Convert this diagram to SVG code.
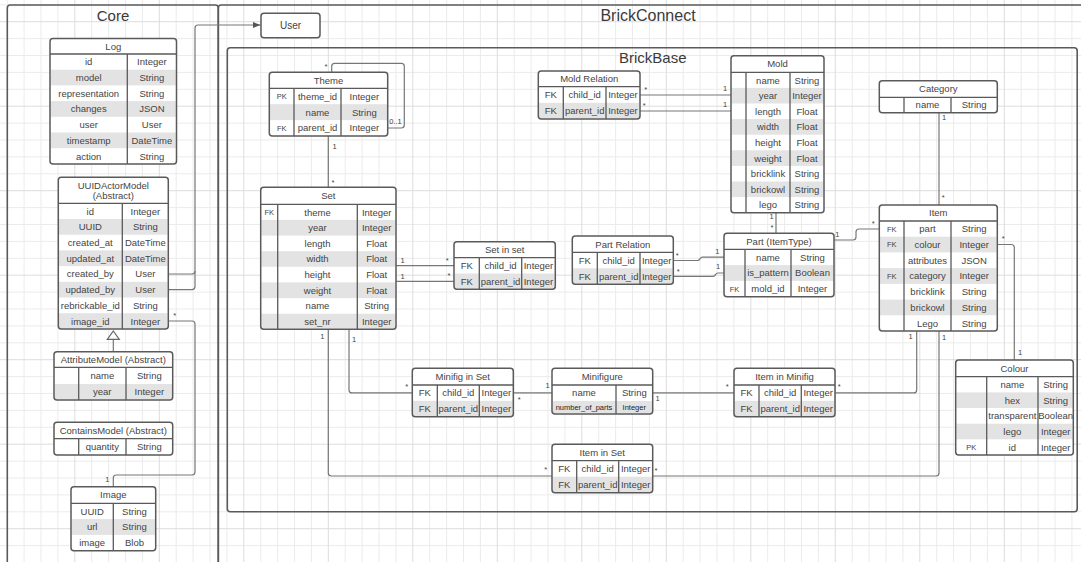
<svg xmlns="http://www.w3.org/2000/svg" width="1081" height="562" viewBox="0 0 1081 562">
<defs>
<pattern id="grid" patternUnits="userSpaceOnUse" x="66.35" y="13.25" width="84.5" height="84.5">
<path d="M25.35 0V84.5M42.25 0V84.5M59.15 0V84.5M76.05 0V84.5M0 25.35H84.5M0 42.25H84.5M0 59.15H84.5M0 76.05H84.5" stroke="#ebebeb" stroke-width="1" fill="none"/>
<path d="M8.45 0V84.5M0 8.45H84.5" stroke="#dcdcdc" stroke-width="1" fill="none"/>
</pattern>
<marker id="arrow" viewBox="0 0 8 8" refX="8" refY="4" markerWidth="8" markerHeight="8" markerUnits="userSpaceOnUse" orient="auto">
<path d="M0 0.8L8 4L0 7.2Z" fill="#555"/>
</marker>
</defs>
<style>
.frame{fill:none;stroke:#5a5a5a;stroke-width:1.6}
.box{fill:#fff}
.edge{fill:none;stroke:#5a5a5a;stroke-width:1.5}
.alt{fill:#e3e3e3}
.div{fill:none;stroke:#5a5a5a;stroke-width:1.3}
text{font-family:"Liberation Sans",Arial,sans-serif;fill:#444;text-anchor:middle}
.t{font-size:9.5px}
.k{font-size:7.5px}
.m{font-size:7.5px;fill:#222}
.title{font-size:15px;fill:#3a3a3a}
.wire{fill:none;stroke:#777;stroke-width:1.2}
.lbl{font-size:7.5px;fill:#444}
</style>

<!-- canvas and grid -->
<rect width="1081" height="562" fill="#fff"/>
<rect width="1081" height="562" fill="url(#grid)"/>

<!-- containers -->
<g id="core-frame">
<rect class="frame" x="7.3" y="5" width="211" height="620" rx="3"/>
<text class="title" x="113" y="21">Core</text>
</g>
<g id="brickconnect-frame">
<rect class="frame" x="218.3" y="5" width="880" height="620" rx="3"/>
<text class="title" x="648" y="21" style="font-size:16px">BrickConnect</text>
</g>
<g id="brickbase-frame">
<rect class="frame" x="227.3" y="47.7" width="849.9" height="464" rx="3"/>
<text class="title" x="652.8" y="62.7">BrickBase</text>
</g>

<!-- connectors -->
<g id="connectors">
<path class="wire" d="M168.3 274H192Q195 274 195 271"/>
<path class="wire" d="M168.3 289.6H192Q195 289.6 195 286.6V28Q195 25 198 25H260.5" marker-end="url(#arrow)"/>
<path class="wire" d="M168.3 321H192Q195 321 195 324V472Q195 475 192 475H116.3Q113.3 475 113.3 478V486.7"/>
<path class="wire" d="M113.3 351.7V339.3"/>
<path d="M113.3 331L119.3 339.3L107.3 339.3Z" fill="#fff" stroke="#666" stroke-width="1.2"/>
<path class="wire" d="M331.7 72.3V66.3Q331.7 63.3 334.7 63.3H401.3Q404.3 63.3 404.3 66.3V125Q404.3 128 401.3 128H387.7"/>
<path class="wire" d="M328.3 136V187.3"/>
<path class="wire" d="M396 265.6H454M396 281.4H454"/>
<path class="wire" d="M328.3 329.3V473Q328.3 476 331.3 476H552"/>
<path class="wire" d="M349 329.3V389.9Q349 392.9 352 392.9H412.3"/>
<path class="wire" d="M513.3 392.9H552"/>
<path class="wire" d="M652.7 392.9H734"/>
<path class="wire" d="M835 392.9H913.7Q916.7 392.9 916.7 389.9V331"/>
<path class="wire" d="M652.7 476H936Q939 476 939 473V331"/>
<path class="wire" d="M939 112.7V205"/>
<path class="wire" d="M997.3 244.5H1011.3Q1014.3 244.5 1014.3 247.5V360"/>
<path class="wire" d="M834 240H853Q856 240 856 237V232Q856 229 859 229H879.3"/>
<path class="wire" d="M776 212.7V233.3"/>
<path class="wire" d="M640 95H731M640 111H731"/>
<path class="wire" d="M673.3 260.5H697.5C700.5 260.5 699.5 257.2 702.5 257.2H724"/>
<path class="wire" d="M673.3 276.3H713C716 276.3 715 273 718 273H724"/>
<text class="lbl" x="174.7" y="318.3">*</text>
<text class="lbl" x="107.3" y="481.7">1</text>
<text class="lbl" x="326" y="69.3">*</text>
<text class="lbl" x="395.5" y="123.7">0..1</text>
<text class="lbl" x="334.5" y="148.7">1</text>
<text class="lbl" x="333" y="184.5">*</text>
<text class="lbl" x="402.7" y="262.7">1</text>
<text class="lbl" x="402.7" y="278.7">1</text>
<text class="lbl" x="447.3" y="262.6">*</text>
<text class="lbl" x="449" y="278.3">*</text>
<text class="lbl" x="322.3" y="339.4">1</text>
<text class="lbl" x="354" y="341.7">1</text>
<text class="lbl" x="406.7" y="388.6">*</text>
<text class="lbl" x="519.3" y="401.6">*</text>
<text class="lbl" x="547.5" y="388.2">1</text>
<text class="lbl" x="657.7" y="401">1</text>
<text class="lbl" x="727.3" y="388.6">*</text>
<text class="lbl" x="839.3" y="388.6">*</text>
<text class="lbl" x="910.7" y="338.7">1</text>
<text class="lbl" x="944" y="340">1</text>
<text class="lbl" x="545.7" y="472">*</text>
<text class="lbl" x="656" y="472.6">*</text>
<text class="lbl" x="944" y="120">1</text>
<text class="lbl" x="943.3" y="200.3">*</text>
<text class="lbl" x="1003.3" y="241">*</text>
<text class="lbl" x="1020" y="355">1</text>
<text class="lbl" x="837.3" y="237.4">1</text>
<text class="lbl" x="873.3" y="226">*</text>
<text class="lbl" x="771.7" y="219.4">1</text>
<text class="lbl" x="772" y="230.3">*</text>
<text class="lbl" x="645.7" y="92">*</text>
<text class="lbl" x="644.3" y="107.6">*</text>
<text class="lbl" x="725" y="91.4">1</text>
<text class="lbl" x="725" y="106.7">1</text>
<text class="lbl" x="677.3" y="257.6">*</text>
<text class="lbl" x="678.3" y="273.6">*</text>
<text class="lbl" x="717.3" y="254.4">1</text>
<text class="lbl" x="718" y="269.4">1</text>
</g>

<!-- Core entities -->
<g id="user">
<rect class="box" x="261" y="13.3" width="59" height="24.4" rx="3"/>
<rect class="edge" x="261" y="13.3" width="59" height="24.4" rx="3"/>
<text class="t" x="290.5" y="28.9" style="font-size:10px">User</text>
</g>

<g id="log">
<rect class="box" x="50" y="38.5" width="126.5" height="125.5" rx="3"/>
<rect class="alt" x="50.7" y="69.7" width="125.1" height="15.7"/>
<rect class="alt" x="50.7" y="101.1" width="125.1" height="15.7"/>
<rect class="alt" x="50.7" y="132.5" width="125.1" height="15.7"/>
<path class="div" d="M50 54H176.5M127.3 54V164"/>
<rect class="edge" x="50" y="38.5" width="126.5" height="125.5" rx="3"/>
<text class="t" x="113.3" y="49.6">Log</text>
<text class="t" x="88.7" y="65.3">id</text><text class="t" x="151.9" y="65.3">Integer</text>
<text class="t" x="88.7" y="81">model</text><text class="t" x="151.9" y="81">String</text>
<text class="t" x="88.7" y="96.7">representation</text><text class="t" x="151.9" y="96.7">String</text>
<text class="t" x="88.7" y="112.4">changes</text><text class="t" x="151.9" y="112.4">JSON</text>
<text class="t" x="88.7" y="128.1">user</text><text class="t" x="151.9" y="128.1">User</text>
<text class="t" x="88.7" y="143.8">timestamp</text><text class="t" x="151.9" y="143.8">DateTime</text>
<text class="t" x="88.7" y="159.5">action</text><text class="t" x="151.9" y="159.5">String</text>
</g>

<g id="uuid-actor-model">
<rect class="box" x="58.3" y="177.3" width="110" height="151.7" rx="3"/>
<rect class="alt" x="59" y="219" width="108.6" height="15.7"/>
<rect class="alt" x="59" y="250.4" width="108.6" height="15.7"/>
<rect class="alt" x="59" y="281.8" width="108.6" height="15.7"/>
<rect class="alt" x="59" y="313.2" width="108.6" height="15.1"/>
<path class="div" d="M58.3 203.3H168.3M122.3 203.3V329"/>
<rect class="edge" x="58.3" y="177.3" width="110" height="151.7" rx="3"/>
<text class="t" x="113.3" y="188.5">UUIDActorModel</text>
<text class="t" x="113.3" y="199">(Abstract)</text>
<text class="t" x="90.3" y="214.6">id</text><text class="t" x="145.3" y="214.6">Integer</text>
<text class="t" x="90.3" y="230.3">UUID</text><text class="t" x="145.3" y="230.3">String</text>
<text class="t" x="90.3" y="246">created_at</text><text class="t" x="145.3" y="246">DateTime</text>
<text class="t" x="90.3" y="261.7">updated_at</text><text class="t" x="145.3" y="261.7">DateTime</text>
<text class="t" x="90.3" y="277.4">created_by</text><text class="t" x="145.3" y="277.4">User</text>
<text class="t" x="90.3" y="293.1">updated_by</text><text class="t" x="145.3" y="293.1">User</text>
<text class="t" x="90.3" y="308.8">rebrickable_id</text><text class="t" x="145.3" y="308.8">String</text>
<text class="t" x="90.3" y="324.5">image_id</text><text class="t" x="145.3" y="324.5">Integer</text>
</g>

<g id="attribute-model">
<rect class="box" x="54" y="351.7" width="118.7" height="48.3" rx="3"/>
<rect class="alt" x="54.7" y="384" width="117.3" height="15.3"/>
<path class="div" d="M54 367.3H172.7M78.7 367.3V400M126 367.3V400"/>
<rect class="edge" x="54" y="351.7" width="118.7" height="48.3" rx="3"/>
<text class="t" x="113.3" y="362.9">AttributeModel (Abstract)</text>
<text class="t" x="102.3" y="379">name</text><text class="t" x="149.3" y="379">String</text>
<text class="t" x="102.3" y="395.4">year</text><text class="t" x="149.3" y="395.4">Integer</text>
</g>

<g id="contains-model">
<rect class="box" x="54" y="422.3" width="118.7" height="32.7" rx="3"/>
<path class="div" d="M54 438.7H172.7M78.7 438.7V455M126 438.7V455"/>
<rect class="edge" x="54" y="422.3" width="118.7" height="32.7" rx="3"/>
<text class="t" x="113.3" y="433.9">ContainsModel (Abstract)</text>
<text class="t" x="102.3" y="450.2">quantity</text><text class="t" x="149.3" y="450.2">String</text>
</g>

<g id="image">
<rect class="box" x="71" y="486.7" width="84.7" height="64" rx="3"/>
<rect class="alt" x="71.7" y="519.1" width="83.3" height="15.8"/>
<path class="div" d="M71 503.3H155.7M113.3 503.3V550.7"/>
<rect class="edge" x="71" y="486.7" width="84.7" height="64" rx="3"/>
<text class="t" x="113.3" y="498.4">Image</text>
<text class="t" x="92.2" y="514.6">UUID</text><text class="t" x="134.5" y="514.6">String</text>
<text class="t" x="92.2" y="530.4">url</text><text class="t" x="134.5" y="530.4">String</text>
<text class="t" x="92.2" y="546.2">image</text><text class="t" x="134.5" y="546.2">Blob</text>
</g>

<!-- BrickBase entities -->
<g id="theme">
<rect class="box" x="269.3" y="72.3" width="118.4" height="63.7" rx="3"/>
<rect class="alt" x="270" y="104.2" width="117" height="15.9"/>
<path class="div" d="M269.3 88.3H387.7M294 88.3V136M341 88.3V136"/>
<rect class="edge" x="269.3" y="72.3" width="118.4" height="63.7" rx="3"/>
<text class="t" x="328.5" y="83.7">Theme</text>
<text class="k" x="281.7" y="98.9">PK</text><text class="t" x="317.5" y="99.6">theme_id</text><text class="t" x="364.3" y="99.6">Integer</text>
<text class="t" x="317.5" y="115.5">name</text><text class="t" x="364.3" y="115.5">String</text>
<text class="k" x="281.7" y="130.7">FK</text><text class="t" x="317.5" y="131.4">parent_id</text><text class="t" x="364.3" y="131.4">Integer</text>
</g>

<g id="set">
<rect class="box" x="260.7" y="187.3" width="135.3" height="142" rx="3"/>
<rect class="alt" x="261.4" y="219.9" width="133.9" height="15.7"/>
<rect class="alt" x="261.4" y="251.2" width="133.9" height="15.6"/>
<rect class="alt" x="261.4" y="282.4" width="133.9" height="15.7"/>
<rect class="alt" x="261.4" y="313.7" width="133.9" height="14.9"/>
<path class="div" d="M260.7 204.3H396M277.7 204.3V329.3M357.3 204.3V329.3"/>
<rect class="edge" x="260.7" y="187.3" width="135.3" height="142" rx="3"/>
<text class="t" x="328.3" y="199.2">Set</text>
<text class="k" x="269.2" y="214.8">FK</text><text class="t" x="317.5" y="215.5">theme</text><text class="t" x="376.7" y="215.5">Integer</text>
<text class="t" x="317.5" y="231.1">year</text><text class="t" x="376.7" y="231.1">Integer</text>
<text class="t" x="317.5" y="246.8">length</text><text class="t" x="376.7" y="246.8">Float</text>
<text class="t" x="317.5" y="262.4">width</text><text class="t" x="376.7" y="262.4">Float</text>
<text class="t" x="317.5" y="278">height</text><text class="t" x="376.7" y="278">Float</text>
<text class="t" x="317.5" y="293.6">weight</text><text class="t" x="376.7" y="293.6">Float</text>
<text class="t" x="317.5" y="309.3">name</text><text class="t" x="376.7" y="309.3">String</text>
<text class="t" x="317.5" y="324.9">set_nr</text><text class="t" x="376.7" y="324.9">Integer</text>
</g>

<g id="set-in-set">
<rect class="box" x="454" y="241.7" width="101.3" height="47.6" rx="3"/>
<rect class="alt" x="454.7" y="273.5" width="99.9" height="15.1"/>
<path class="div" d="M454 257.7H555.3M479.3 257.7V289.3M521.7 257.7V289.3"/>
<rect class="edge" x="454" y="241.7" width="101.3" height="47.6" rx="3"/>
<text class="t" x="504.7" y="253.1">Set in set</text>
<text class="t" x="466.7" y="269">FK</text><text class="t" x="500.5" y="269">child_id</text><text class="t" x="538.5" y="269">Integer</text>
<text class="t" x="466.7" y="284.8">FK</text><text class="t" x="500.5" y="284.8">parent_id</text><text class="t" x="538.5" y="284.8">Integer</text>
</g>

<g id="mold-relation">
<rect class="box" x="538.3" y="71" width="101.7" height="48" rx="3"/>
<rect class="alt" x="539" y="102.85" width="100.3" height="15.45"/>
<path class="div" d="M538.3 86.7H640M563.3 86.7V119M606 86.7V119"/>
<rect class="edge" x="538.3" y="71" width="101.7" height="48" rx="3"/>
<text class="t" x="589.2" y="82.3">Mold Relation</text>
<text class="t" x="550.8" y="98.2">FK</text><text class="t" x="584.7" y="98.2">child_id</text><text class="t" x="623" y="98.2">Integer</text>
<text class="t" x="550.8" y="114.3">FK</text><text class="t" x="584.7" y="114.3">parent_id</text><text class="t" x="623" y="114.3">Integer</text>
</g>

<g id="mold">
<rect class="box" x="731" y="55.7" width="93" height="157" rx="3"/>
<rect class="alt" x="731.7" y="87.9" width="91.6" height="15.6"/>
<rect class="alt" x="731.7" y="119.1" width="91.6" height="15.6"/>
<rect class="alt" x="731.7" y="150.3" width="91.6" height="15.6"/>
<rect class="alt" x="731.7" y="181.5" width="91.6" height="15.6"/>
<path class="div" d="M731 72.3H824M746 72.3V212.7M790 72.3V212.7"/>
<rect class="edge" x="731" y="55.7" width="93" height="157" rx="3"/>
<text class="t" x="777.5" y="67.4">Mold</text>
<text class="t" x="768" y="83.5">name</text><text class="t" x="807" y="83.5">String</text>
<text class="t" x="768" y="99.1">year</text><text class="t" x="807" y="99.1">Integer</text>
<text class="t" x="768" y="114.7">length</text><text class="t" x="807" y="114.7">Float</text>
<text class="t" x="768" y="130.3">width</text><text class="t" x="807" y="130.3">Float</text>
<text class="t" x="768" y="145.9">height</text><text class="t" x="807" y="145.9">Float</text>
<text class="t" x="768" y="161.5">weight</text><text class="t" x="807" y="161.5">Float</text>
<text class="t" x="768" y="177.1">bricklink</text><text class="t" x="807" y="177.1">String</text>
<text class="t" x="768" y="192.7">brickowl</text><text class="t" x="807" y="192.7">String</text>
<text class="t" x="768" y="208.3">lego</text><text class="t" x="807" y="208.3">String</text>
</g>

<g id="category">
<rect class="box" x="879.3" y="80.7" width="118" height="32" rx="3"/>
<path class="div" d="M879.3 97.3H997.3M904 97.3V112.7M951 97.3V112.7"/>
<rect class="edge" x="879.3" y="80.7" width="118" height="32" rx="3"/>
<text class="t" x="938.3" y="92.4">Category</text>
<text class="t" x="927.5" y="108.4">name</text><text class="t" x="974.2" y="108.4">String</text>
</g>

<g id="item">
<rect class="box" x="879.3" y="205" width="118" height="126" rx="3"/>
<rect class="alt" x="880" y="236.7" width="116.6" height="15.7"/>
<rect class="alt" x="880" y="268.1" width="116.6" height="15.8"/>
<rect class="alt" x="880" y="299.6" width="116.6" height="15.7"/>
<path class="div" d="M879.3 221H997.3M904 221V331M951 221V331"/>
<rect class="edge" x="879.3" y="205" width="118" height="126" rx="3"/>
<text class="t" x="938.3" y="216.4">Item</text>
<text class="k" x="891.7" y="231.5">FK</text><text class="t" x="927.5" y="232.2">part</text><text class="t" x="974.2" y="232.2">String</text>
<text class="k" x="891.7" y="247.3">FK</text><text class="t" x="927.5" y="247.9">colour</text><text class="t" x="974.2" y="247.9">Integer</text>
<text class="t" x="927.5" y="263.6">attributes</text><text class="t" x="974.2" y="263.6">JSON</text>
<text class="k" x="891.7" y="278.7">FK</text><text class="t" x="927.5" y="279.3">category</text><text class="t" x="974.2" y="279.3">Integer</text>
<text class="t" x="927.5" y="295.1">bricklink</text><text class="t" x="974.2" y="295.1">String</text>
<text class="t" x="927.5" y="310.8">brickowl</text><text class="t" x="974.2" y="310.8">String</text>
<text class="t" x="927.5" y="326.5">Lego</text><text class="t" x="974.2" y="326.5">String</text>
</g>

<g id="part-itemtype">
<rect class="box" x="724" y="233.3" width="110" height="63.4" rx="3"/>
<rect class="alt" x="724.7" y="265.1" width="108.6" height="15.8"/>
<path class="div" d="M724 249.3H834M745 249.3V296.7M791 249.3V296.7"/>
<rect class="edge" x="724" y="233.3" width="110" height="63.4" rx="3"/>
<text class="t" x="779" y="244.7">Part (ItemType)</text>
<text class="t" x="768" y="260.5">name</text><text class="t" x="812.5" y="260.5">String</text>
<text class="t" x="768" y="276.3">is_pattern</text><text class="t" x="812.5" y="276.3">Boolean</text>
<text class="k" x="734.5" y="291.5">FK</text><text class="t" x="768" y="292.1">mold_id</text><text class="t" x="812.5" y="292.1">Integer</text>
</g>

<g id="part-relation">
<rect class="box" x="572.3" y="236" width="101" height="48.3" rx="3"/>
<rect class="alt" x="573" y="268.3" width="99.6" height="15.3"/>
<path class="div" d="M572.3 252.3H673.3M597.3 252.3V284.3M640 252.3V284.3"/>
<rect class="edge" x="572.3" y="236" width="101" height="48.3" rx="3"/>
<text class="t" x="622.8" y="247.6">Part Relation</text>
<text class="t" x="584.8" y="263.7">FK</text><text class="t" x="618.7" y="263.7">child_id</text><text class="t" x="656.7" y="263.7">Integer</text>
<text class="t" x="584.8" y="279.7">FK</text><text class="t" x="618.7" y="279.7">parent_id</text><text class="t" x="656.7" y="279.7">Integer</text>
</g>

<g id="minifig-in-set">
<rect class="box" x="412.3" y="368.3" width="101" height="48.4" rx="3"/>
<rect class="alt" x="413" y="400.85" width="99.6" height="15.15"/>
<path class="div" d="M412.3 385H513.3M437.3 385V416.7M479.3 385V416.7"/>
<rect class="edge" x="412.3" y="368.3" width="101" height="48.4" rx="3"/>
<text class="t" x="462.8" y="380">Minifig in Set</text>
<text class="t" x="424.8" y="396.3">FK</text><text class="t" x="458.3" y="396.3">child_id</text><text class="t" x="496.3" y="396.3">Integer</text>
<text class="t" x="424.8" y="412.2">FK</text><text class="t" x="458.3" y="412.2">parent_id</text><text class="t" x="496.3" y="412.2">Integer</text>
</g>

<g id="minifigure">
<rect class="box" x="552" y="368.3" width="100.7" height="45.7" rx="3"/>
<rect class="alt" x="552.7" y="401" width="99.3" height="12.3"/>
<path class="div" d="M552 385H652.7M616 385V414"/>
<rect class="edge" x="552" y="368.3" width="100.7" height="45.7" rx="3"/>
<text class="t" x="602.3" y="380">Minifigure</text>
<text class="t" x="584" y="396.4">name</text><text class="t" x="634.3" y="396.4">String</text>
<text class="m" x="584" y="410.2">number_of_parts</text><text class="m" x="634.3" y="410.2">Integer</text>
</g>

<g id="item-in-minifig">
<rect class="box" x="734" y="368.3" width="101" height="48.4" rx="3"/>
<rect class="alt" x="734.7" y="400.85" width="99.6" height="15.15"/>
<path class="div" d="M734 385H835M759 385V416.7M801.3 385V416.7"/>
<rect class="edge" x="734" y="368.3" width="101" height="48.4" rx="3"/>
<text class="t" x="784.5" y="380">Item in Minifig</text>
<text class="t" x="746.5" y="396.3">FK</text><text class="t" x="780.2" y="396.3">child_id</text><text class="t" x="818.2" y="396.3">Integer</text>
<text class="t" x="746.5" y="412.2">FK</text><text class="t" x="780.2" y="412.2">parent_id</text><text class="t" x="818.2" y="412.2">Integer</text>
</g>

<g id="item-in-set">
<rect class="box" x="552" y="444.3" width="100.7" height="48.4" rx="3"/>
<rect class="alt" x="552.7" y="476.7" width="99.3" height="15.3"/>
<path class="div" d="M552 460.7H652.7M576.7 460.7V492.7M618.7 460.7V492.7"/>
<rect class="edge" x="552" y="444.3" width="100.7" height="48.4" rx="3"/>
<text class="t" x="602.3" y="455.9">Item in Set</text>
<text class="t" x="564.3" y="472.1">FK</text><text class="t" x="597.7" y="472.1">child_id</text><text class="t" x="635.7" y="472.1">Integer</text>
<text class="t" x="564.3" y="488.1">FK</text><text class="t" x="597.7" y="488.1">parent_id</text><text class="t" x="635.7" y="488.1">Integer</text>
</g>

<g id="colour">
<rect class="box" x="955.7" y="360" width="117.6" height="95" rx="3"/>
<rect class="alt" x="956.4" y="392.4" width="116.2" height="15.6"/>
<rect class="alt" x="956.4" y="423.7" width="116.2" height="15.6"/>
<path class="div" d="M955.7 376.7H1073.3M986.7 376.7V455M1038 376.7V455"/>
<rect class="edge" x="955.7" y="360" width="117.6" height="95" rx="3"/>
<text class="t" x="1014.5" y="371.8">Colour</text>
<text class="t" x="1012.3" y="387.9">name</text><text class="t" x="1055.7" y="387.9">String</text>
<text class="t" x="1012.3" y="403.6">hex</text><text class="t" x="1055.7" y="403.6">String</text>
<text class="t" x="1012.3" y="419.2">transparent</text><text class="t" x="1055.7" y="419.2">Boolean</text>
<text class="t" x="1012.3" y="434.9">lego</text><text class="t" x="1055.7" y="434.9">Integer</text>
<text class="k" x="971.2" y="449.9">PK</text><text class="t" x="1012.3" y="450.5">id</text><text class="t" x="1055.7" y="450.5">Integer</text>
</g>
</svg>
